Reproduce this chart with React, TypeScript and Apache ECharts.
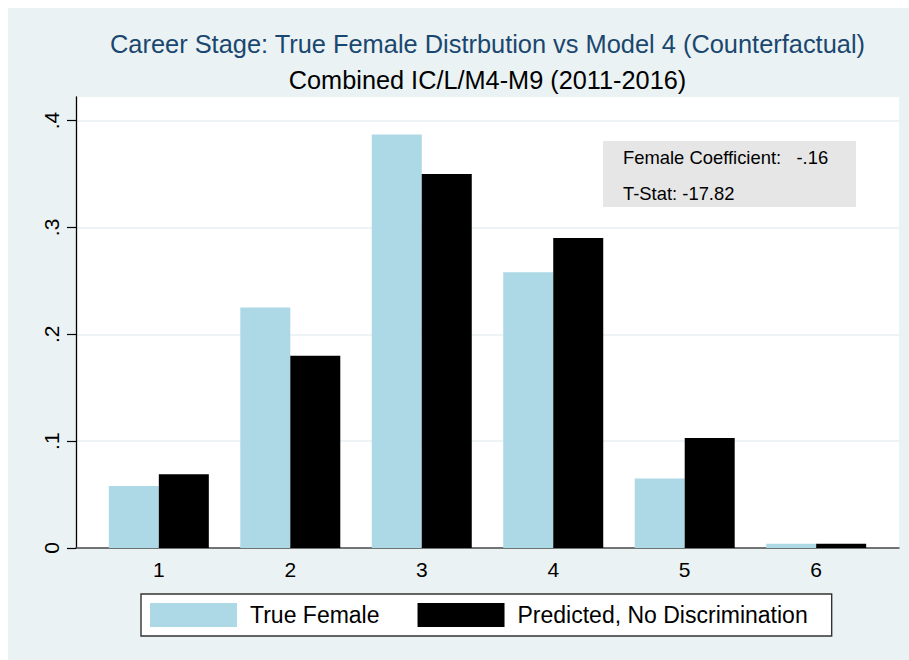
import React, { useEffect, useRef } from "react";
import * as echarts from "echarts";

const categories = [1, 2, 3, 4, 5, 6];
const categoryLabels = ["1", "2", "3", "4", "5", "6"];
const trueFemale = [0.058, 0.225, 0.387, 0.258, 0.065, 0.004];
const predicted = [0.069, 0.18, 0.35, 0.29, 0.103, 0.004];
const yTicks = [0, 0.1, 0.2, 0.3, 0.4];
const yTickLabels = ["0", ".1", ".2", ".3", ".4"];
const seriesNames = ["True Female", "Predicted, No Discrimination"];
const titleText = "Career Stage: True Female Distrbution vs Model 4 (Counterfactual)";
const subtitleText = "Combined IC/L/M4-M9 (2011-2016)";
const noteLines = ["Female Coefficient:   -.16", "T-Stat: -17.82"];

const FONT = '"Liberation Sans", Arial, Helvetica, sans-serif';

export default function App() {
  const ref = useRef<HTMLDivElement>(null);
  useEffect(() => {
    if (!ref.current) return;
    const chart = echarts.init(ref.current, null, { renderer: "svg" });
    const option = {
      animation: false,
      backgroundColor: "#EAF2F3",
      textStyle: { fontFamily: FONT },
      grid: {
        left: 68,
        right: 10,
        top: 89,
        bottom: 112,
        show: true,
        backgroundColor: "#FFFFFF",
        borderWidth: 0,
      },
      xAxis: {
        type: "value",
        min: 0.37,
        max: 6.63,
        splitLine: { show: false },
        axisLine: { show: true, onZero: false, lineStyle: { color: "#4a4a4a", width: 1.5 } },
        axisTick: { show: false, customValues: categories },
        axisLabel: {
          customValues: categories,
          formatter: (v: number) => categoryLabels[categories.indexOf(Math.round(v))] ?? "",
          color: "#000",
          fontSize: 21,
          fontFamily: FONT,
          margin: 11,
        },
      },
      yAxis: {
        type: "value",
        min: 0,
        max: 0.422,
        interval: 0.1,
        axisLine: { show: true, lineStyle: { color: "#000", width: 1.3 } },
        axisTick: { show: true, length: 9, customValues: yTicks, lineStyle: { color: "#000", width: 1.2 } },
        splitLine: { show: true, lineStyle: { color: "#E9F0F2", width: 1.6 } },
        axisLabel: {
          rotate: 90,
          color: "#000",
          fontSize: 21,
          fontFamily: FONT,
          margin: 14,
          customValues: yTicks,
          formatter: (v: number) => {
            const i = yTicks.findIndex((t) => Math.abs(t - v) < 1e-6);
            return i >= 0 ? yTickLabels[i] : "";
          },
        },
      },
      legend: {
        left: 133,
        top: 586,
        orient: "horizontal",
        padding: [9, 24, 9, 9],
        itemGap: 38,
        itemWidth: 87,
        itemHeight: 24,
        icon: "rect",
        backgroundColor: "#FFFFFF",
        borderColor: "#333333",
        borderWidth: 1.4,
        borderRadius: 0,
        textStyle: { fontSize: 23, color: "#000", fontFamily: FONT, padding: [0, 0, 0, 8] },
        data: seriesNames,
      },
      series: [
        {
          name: seriesNames[0],
          type: "bar",
          barWidth: 50,
          barGap: "0%",
          itemStyle: { color: "#ADD8E6" },
          data: categories.map((c, i) => [c, trueFemale[i]]),
        },
        {
          name: seriesNames[1],
          type: "bar",
          barWidth: 50,
          barGap: "0%",
          itemStyle: { color: "#000000" },
          data: categories.map((c, i) => [c, predicted[i]]),
        },
      ],
      graphic: [
        {
          type: "text",
          x: 479.5,
          y: 35.5,
          style: {
            text: titleText,
            fill: "#1A476F",
            font: `25.4px ${FONT}`,
            align: "center",
            verticalAlign: "middle",
          },
        },
        {
          type: "text",
          x: 479.5,
          y: 71.5,
          style: {
            text: subtitleText,
            fill: "#000",
            font: `25.3px ${FONT}`,
            align: "center",
            verticalAlign: "middle",
          },
        },
        {
          type: "rect",
          x: 595,
          y: 133,
          shape: { width: 253, height: 66 },
          style: { fill: "#E6E6E6" },
          z: 10,
        },
        {
          type: "text",
          x: 615,
          y: 149,
          z: 11,
          style: {
            text: noteLines[0],
            fill: "#000",
            font: `18.4px ${FONT}`,
            align: "left",
            verticalAlign: "middle",
          },
        },
        {
          type: "text",
          x: 615,
          y: 185,
          z: 11,
          style: {
            text: noteLines[1],
            fill: "#000",
            font: `18.4px ${FONT}`,
            align: "left",
            verticalAlign: "middle",
          },
        },
      ],
    };
    chart.setOption(option as any);
    return () => chart.dispose();
  }, []);
  return (
    <div
      ref={ref}
      style={{ position: "absolute", left: 8, top: 8, width: 901, height: 652 }}
    />
  );
}
